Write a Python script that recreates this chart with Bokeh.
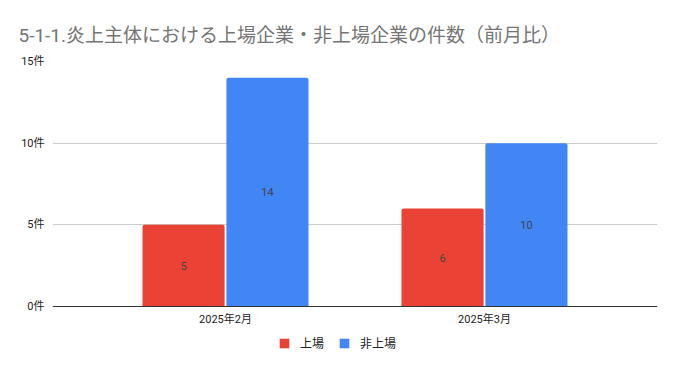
from bokeh.plotting import figure
from bokeh.models import ColumnDataSource, Range1d, FixedTicker, Legend, LegendItem, LabelSet
from bokeh.core.properties import value
from bokeh.embed import file_html
from bokeh.resources import INLINE

categories = ["2025年2月", "2025年3月"]
listed = [5, 6]
unlisted = [14, 10]
series_names = ["上場", "非上場"]
y_ticks = [0, 5, 10, 15]
y_tick_labels = ["0件", "5件", "10件", "15件"]

FONT = "Roboto, 'Noto Sans CJK JP', sans-serif"
RED = "#EA4335"
BLUE = "#4285F4"

xs = list(range(len(categories)))
bw = 0.317
off = 0.162

src_a = ColumnDataSource(dict(x=[v - off for v in xs], top=listed, mid=[v / 2 for v in listed], lab=[str(v) for v in listed]))
src_b = ColumnDataSource(dict(x=[v + off for v in xs], top=unlisted, mid=[v / 2 for v in unlisted], lab=[str(v) for v in unlisted]))

# frame spans y 61..366; value 0 sits at y 306 (245 px for 15 units)
p = figure(frame_width=605, frame_height=305, output_backend="svg", toolbar_location=None,
           x_range=Range1d(-0.668, 1.668), y_range=Range1d(-60 * 15 / 245, 15),
           min_border_left=52, min_border_right=20, min_border_top=61, min_border_bottom=0)
p.title.text = "5-1-1.炎上主体における上場企業・非上場企業の件数（前月比）"
p.title.text_font = FONT
p.title.text_font_size = "19px"
p.title.text_font_style = "normal"
p.title.text_color = "#757575"
p.title.offset = -34
p.title.standoff = 30
p.outline_line_color = None

r1 = p.vbar(x="x", top="top", bottom=0, width=bw, source=src_a, color=RED, line_color=None,
            border_radius=[2, 2, 0, 0])
r2 = p.vbar(x="x", top="top", bottom=0, width=bw, source=src_b, color=BLUE, line_color=None,
            border_radius=[2, 2, 0, 0])

for s in (src_a, src_b):
    p.add_layout(LabelSet(x="x", y="mid", text="lab", source=s, text_align="center", text_baseline="middle",
                          text_font=value(FONT), text_font_size=value("11px"), text_color="#444444"))

p.yaxis.ticker = FixedTicker(ticks=y_ticks)
p.yaxis.major_label_overrides = {t: l for t, l in zip(y_ticks, y_tick_labels)}
p.yaxis.axis_line_color = None
p.yaxis.major_tick_line_color = None
p.yaxis.minor_tick_line_color = None
p.yaxis.major_label_text_font = FONT
p.yaxis.major_label_text_font_size = "11px"
p.yaxis.major_label_text_color = "#222222"
p.yaxis.major_label_standoff = 2

p.xaxis.fixed_location = 0
p.xaxis.ticker = FixedTicker(ticks=xs)
p.xaxis.major_label_overrides = {i: c for i, c in zip(xs, categories)}
p.xaxis.axis_line_color = "#333333"
p.xaxis.major_tick_line_color = None
p.xaxis.minor_tick_line_color = None
p.xaxis.major_label_text_font = FONT
p.xaxis.major_label_text_font_size = "11px"
p.xaxis.major_label_text_color = "#222222"
p.xaxis.major_label_standoff = 0

p.xgrid.grid_line_color = None
p.ygrid.grid_line_color = "#cccccc"
p.ygrid.ticker = FixedTicker(ticks=y_ticks[1:])

legend = Legend(items=[LegendItem(label=series_names[0], renderers=[r1]),
                       LegendItem(label=series_names[1], renderers=[r2])],
                orientation="horizontal", location=(226, 15),
                label_text_font=FONT, label_text_font_size="12px", label_text_color="#222222",
                glyph_width=12, glyph_height=12, label_height=12, spacing=14, label_standoff=10,
                border_line_color=None, background_fill_alpha=0, margin=0, padding=0)
p.add_layout(legend, "center")

open("out.html", "w").write(file_html(p, INLINE))
